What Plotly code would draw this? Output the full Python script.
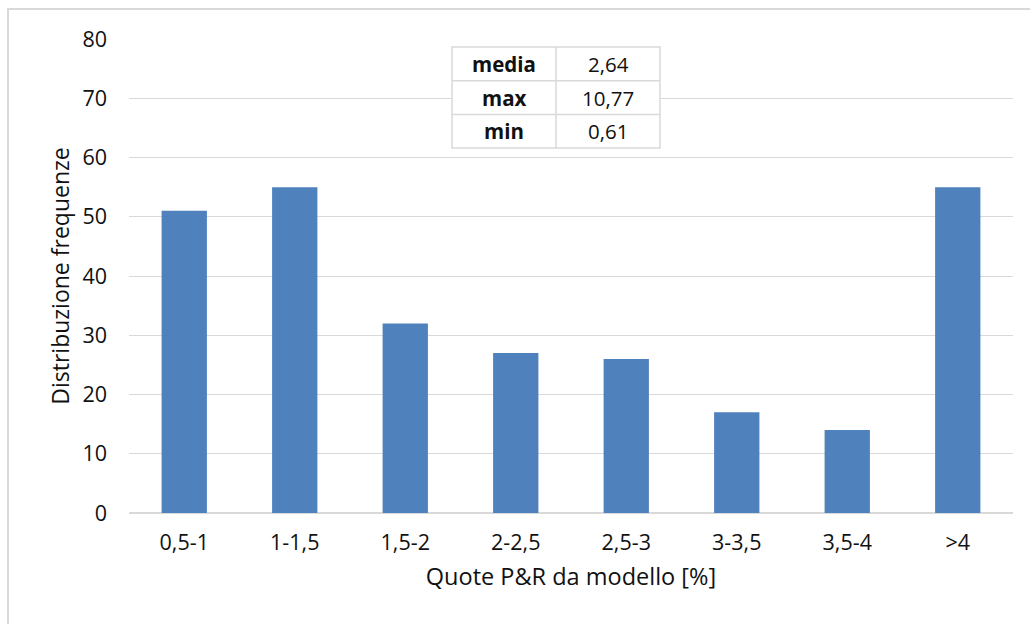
import plotly.graph_objects as go

# Frequency distribution of P&R shares
categories = ["0,5-1", "1-1,5", "1,5-2", "2-2,5", "2,5-3", "3-3,5", "3,5-4", ">4"]
frequencies = [51, 55, 32, 27, 26, 17, 14, 55]

# Summary statistics table
stat_names = ["media", "max", "min"]
stat_values = ["2,64", "10,77", "0,61"]

W, H = 1030, 624
L, R, T, B = 129, 17, 39, 111
pw, ph = W - L - R, H - T - B


def px(x):
    return (x - L) / pw


def py(y):
    return (H - B - y) / ph


FONT = "'Open Sans', Lato, sans-serif"
TXT = "#111111"
GRID = "#d9d9d9"

fig = go.Figure(
    go.Bar(
        x=categories,
        y=frequencies,
        marker=dict(color="#4f81bd", line=dict(width=0)),
        width=0.41,
    )
)

shapes = [
    # outer chart border
    dict(type="rect", xref="paper", yref="paper",
         x0=px(8), x1=px(1040), y0=py(640), y1=py(9),
         line=dict(color=GRID, width=2), fillcolor="rgba(0,0,0,0)", layer="below"),
]

# statistics table
tx0, tx1, tmid = 452, 660, 556
ty0, row_h = 47, 33.7
n = len(stat_names)
shapes.append(dict(type="rect", xref="paper", yref="paper",
                   x0=px(tx0), x1=px(tx1), y0=py(ty0 + n * row_h), y1=py(ty0),
                   line=dict(color=GRID, width=1.5), fillcolor="white", layer="above"))
shapes.append(dict(type="line", xref="paper", yref="paper",
                   x0=px(tmid), x1=px(tmid), y0=py(ty0 + n * row_h), y1=py(ty0),
                   line=dict(color=GRID, width=1.5)))
annotations = []
for i, (name, val) in enumerate(zip(stat_names, stat_values)):
    if i > 0:
        yy = ty0 + i * row_h
        shapes.append(dict(type="line", xref="paper", yref="paper",
                           x0=px(tx0), x1=px(tx1), y0=py(yy), y1=py(yy),
                           line=dict(color=GRID, width=1.5)))
    yc = ty0 + (i + 0.5) * row_h
    annotations.append(dict(xref="paper", yref="paper", x=px((tx0 + tmid) / 2), y=py(yc),
                            xanchor="center", yanchor="middle",
                            text=f"<b>{name}</b>", showarrow=False,
                            font=dict(family=FONT, size=20.5, color=TXT)))
    annotations.append(dict(xref="paper", yref="paper", x=px((tmid + tx1) / 2), y=py(yc),
                            xanchor="center", yanchor="middle",
                            text=val, showarrow=False,
                            font=dict(family=FONT, size=20.5, color=TXT)))

fig.update_layout(
    width=W, height=H,
    margin=dict(l=L, r=R, t=T, b=B),
    paper_bgcolor="white", plot_bgcolor="white",
    font=dict(family=FONT, size=21.5, color=TXT),
    showlegend=False,
    shapes=shapes,
    annotations=annotations,
    bargap=0.59,
    xaxis=dict(
        showgrid=False, showline=False, zeroline=False, ticks="",
        ticklabelstandoff=14,
        title=dict(text="Quote P&R da modello [%]", font=dict(size=23.5), standoff=14),
    ),
    yaxis=dict(
        range=[0, 80], dtick=10, showgrid=True, gridcolor=GRID, gridwidth=1.3,
        zeroline=True, zerolinecolor=GRID, zerolinewidth=1.5, showline=False,
        ticks="", ticklabelstandoff=21,
        title=dict(text="Distribuzione frequenze", font=dict(size=23), standoff=6),
    ),
)

fig.write_html("out.html")
